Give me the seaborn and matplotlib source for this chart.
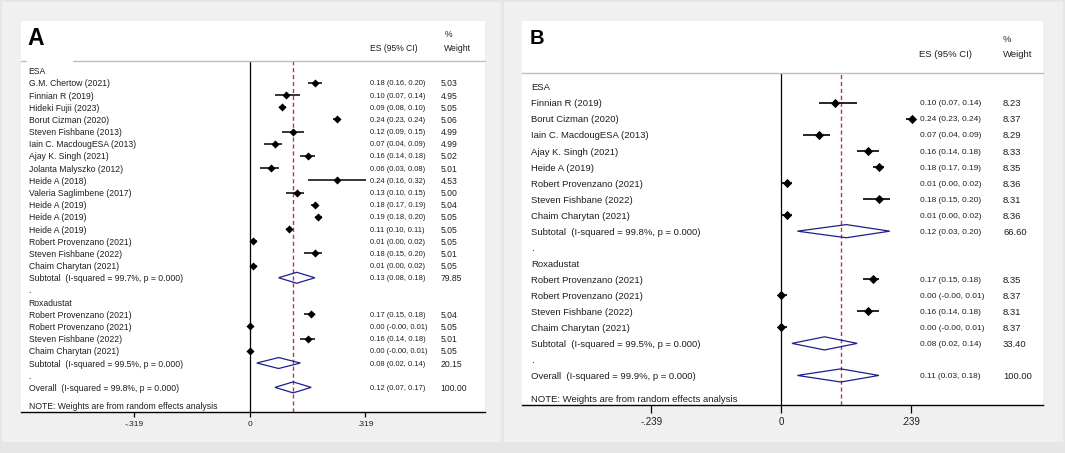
import matplotlib
matplotlib.use("Agg")
import matplotlib.pyplot as plt
import matplotlib.transforms as mtransforms
from matplotlib import font_manager
from matplotlib.patches import Rectangle, Polygon
from matplotlib.lines import Line2D
import pandas as pd
import seaborn as sns

sns.set_style("white")
plt.rcParams['font.family'] = ['Liberation Sans', 'DejaVu Sans']

# ---- panel A data ----
a_esa_names = ["G.M. Chertow (2021)", "Finnian R (2019)", "Hideki Fujii (2023)", "Borut Cizman (2020)",
               "Steven Fishbane (2013)", "Iain C. MacdougESA (2013)", "Ajay K. Singh (2021)",
               "Jolanta Malyszko (2012)", "Heide A (2018)", "Valeria Saglimbene (2017)", "Heide A (2019)",
               "Heide A (2019)", "Heide A (2019)", "Robert Provenzano (2021)", "Steven Fishbane (2022)",
               "Chaim Charytan (2021)"]
a_esa_es = [0.18, 0.10, 0.09, 0.24, 0.12, 0.07, 0.16, 0.06, 0.24, 0.13, 0.18, 0.19, 0.11, 0.01, 0.18, 0.01]
a_esa_lo = [0.16, 0.07, 0.08, 0.23, 0.09, 0.04, 0.14, 0.03, 0.16, 0.10, 0.17, 0.18, 0.10, 0.00, 0.15, 0.00]
a_esa_hi = [0.20, 0.14, 0.10, 0.24, 0.15, 0.09, 0.18, 0.08, 0.32, 0.15, 0.19, 0.20, 0.11, 0.02, 0.20, 0.02]
a_esa_w = [5.03, 4.95, 5.05, 5.06, 4.99, 4.99, 5.02, 5.01, 4.53, 5.00, 5.04, 5.05, 5.05, 5.05, 5.01, 5.05]

a_rox_names = ["Robert Provenzano (2021)", "Robert Provenzano (2021)", "Steven Fishbane (2022)",
               "Chaim Charytan (2021)"]
a_rox_es = [0.17, 0.00, 0.16, 0.00]
a_rox_lo = [0.15, -0.0, 0.14, -0.0]
a_rox_hi = [0.18, 0.01, 0.18, 0.01]
a_rox_w = [5.04, 5.05, 5.01, 5.05]

# pooled: ESA subtotal, Roxadustat subtotal, overall
a_pool_labels = ["Subtotal  (I-squared = 99.7%, p = 0.000)", "Subtotal  (I-squared = 99.5%, p = 0.000)",
                 "Overall  (I-squared = 99.8%, p = 0.000)"]
a_pool_es = [0.13, 0.08, 0.12]
a_pool_lo = [0.08, 0.02, 0.07]
a_pool_hi = [0.18, 0.14, 0.17]
a_pool_w = [79.85, 20.15, 100.00]

# ---- panel B data ----
b_esa_names = ["Finnian R (2019)", "Borut Cizman (2020)", "Iain C. MacdougESA (2013)", "Ajay K. Singh (2021)",
               "Heide A (2019)", "Robert Provenzano (2021)", "Steven Fishbane (2022)", "Chaim Charytan (2021)"]
b_esa_es = [0.10, 0.24, 0.07, 0.16, 0.18, 0.01, 0.18, 0.01]
b_esa_lo = [0.07, 0.23, 0.04, 0.14, 0.17, 0.00, 0.15, 0.00]
b_esa_hi = [0.14, 0.24, 0.09, 0.18, 0.19, 0.02, 0.20, 0.02]
b_esa_w = [8.23, 8.37, 8.29, 8.33, 8.35, 8.36, 8.31, 8.36]

b_rox_names = ["Robert Provenzano (2021)", "Robert Provenzano (2021)", "Steven Fishbane (2022)",
               "Chaim Charytan (2021)"]
b_rox_es = [0.17, 0.00, 0.16, 0.00]
b_rox_lo = [0.15, -0.0, 0.14, -0.0]
b_rox_hi = [0.18, 0.01, 0.18, 0.01]
b_rox_w = [8.35, 8.37, 8.31, 8.37]

b_pool_labels = ["Subtotal  (I-squared = 99.8%, p = 0.000)", "Subtotal  (I-squared = 99.5%, p = 0.000)",
                 "Overall  (I-squared = 99.9%, p = 0.000)"]
b_pool_es = [0.12, 0.08, 0.11]
b_pool_lo = [0.03, 0.02, 0.03]
b_pool_hi = [0.20, 0.14, 0.18]
b_pool_w = [66.60, 33.40, 100.00]

group_names = ["ESA", "Roxadustat"]
note_text = "NOTE: Weights are from random effects analysis"

W, H = 1065, 453
INK = '#1e1e1e'
NAVY = '#1f1f8c'
RED = '#b8384a'

# the ES column is set in a narrow face in the original
installed = {f.name for f in font_manager.fontManager.ttflist}
if 'Liberation Sans Narrow' in installed:
    NUM_FAMILY, NUM_SCALE = ['Liberation Sans Narrow', 'Liberation Sans'], 1.0
else:
    NUM_FAMILY, NUM_SCALE = ['Liberation Sans', 'DejaVu Sans'], 0.87


def build_rows(groups, pools):
    recs = []
    r = 0
    for gname, g, (pl, pe, plo, phi, pw) in zip(group_names, groups, pools[:2]):
        recs.append(dict(row=r, kind='head', label=gname))
        r += 1
        for n, e, lo, hi, w in zip(*g):
            recs.append(dict(row=r, kind='study', label=n, es=e, lo=lo, hi=hi, w=w))
            r += 1
        recs.append(dict(row=r, kind='pool', label=pl, es=pe, lo=plo, hi=phi, w=pw))
        r += 1
        recs.append(dict(row=r, kind='blank', label='.'))
        r += 1
    pl, pe, plo, phi, pw = pools[2]
    recs.append(dict(row=r, kind='pool', label=pl, es=pe, lo=plo, hi=phi, w=pw))
    return pd.DataFrame(recs)


def px_rect(fig, x0, y0, x1, y1, **kw):
    fig.add_artist(Rectangle((x0 / W, 1 - y1 / H), (x1 - x0) / W, (y1 - y0) / H,
                             transform=fig.transFigure, **kw))


def draw_panel(fig, df, g):
    # frame and white header box
    px_rect(fig, *g['frame'], facecolor='#f0f0f0', edgecolor='none', zorder=0)
    px_rect(fig, g['left'], g['top'], g['right'], g['header'], facecolor='white', edgecolor='none', zorder=1)
    yline = 1 - g['header'] / H
    segs = [(g['left'], g['right'])] if g['gap'] is None else \
        [(g['left'], g['gap'][0]), (g['gap'][1], g['right'])]
    for x0, x1 in segs:
        fig.add_artist(Line2D([x0 / W, x1 / W], [yline, yline], transform=fig.transFigure,
                              color='#bdbdbd', lw=1.0, zorder=2))

    ax = fig.add_axes([g['left'] / W, 1 - g['axis'] / H, (g['right'] - g['left']) / W,
                       (g['axis'] - g['header']) / H])
    ax.set_facecolor('white')

    studies = df[df.kind == 'study']
    pools = df[df.kind == 'pool']
    overall = pools.iloc[-1]

    ax.axvline(0, color='black', lw=0.9, zorder=2)
    ax.axvline(overall.es, color=RED, lw=1.0, ls=(0, (3, 2)), zorder=3)
    ax.hlines(studies.row, studies.lo, studies.hi, color='black', lw=g['ci_lw'], zorder=4)
    sns.scatterplot(data=studies, x='es', y='row', marker='D', color='black', s=g['marker_s'],
                    linewidth=0, legend=False, zorder=5, ax=ax)
    h = g['diamond_h']
    for _, p in pools.iterrows():
        ax.add_patch(Polygon([(p.lo, p.row), (p.es, p.row - h), (p.hi, p.row), (p.es, p.row + h)],
                             closed=True, fill=False, edgecolor=NAVY, lw=0.9, zorder=4))

    ax.set_xlim((g['left'] - g['zero']) / g['scale'], (g['right'] - g['zero']) / g['scale'])
    ax.set_ylim((g['axis'] - g['row0']) / g['step'], (g['header'] - g['row0']) / g['step'])
    ax.set(xlabel='', ylabel='')
    ax.set_yticks([])
    t = g['tick']
    ax.set_xticks([-t, 0, t])
    ax.set_xticklabels(["-." + f"{t:.3f}"[2:], "0", "." + f"{t:.3f}"[2:]])
    ax.tick_params(axis='x', direction='out', length=g['ticklen'], width=0.9, color='black',
                   labelsize=g['tickfs'], labelcolor=INK, pad=g['tickpad'], bottom=True)
    for s in ['top', 'left', 'right']:
        ax.spines[s].set_visible(False)
    ax.spines['bottom'].set_color('black')
    ax.spines['bottom'].set_linewidth(1.0)

    span = g['right'] - g['left']
    tr = mtransforms.blended_transform_factory(ax.transAxes, ax.transData)
    fx = lambda px: (px - g['left']) / span
    for _, rr in df.iterrows():
        ax.text(fx(g['label_x']), rr.row, rr.label, transform=tr, va='center_baseline', ha='left',
                fontsize=g['fs'], color=INK)
        if rr.kind in ('study', 'pool'):
            ax.text(fx(g['es_x']), rr.row, f"{rr.es:.2f} ({rr.lo:.2f}, {rr.hi:.2f})", transform=tr,
                    va='center_baseline', ha='left', fontsize=g['fs'] * NUM_SCALE, family=NUM_FAMILY,
                    color=INK)
            ax.text(fx(g['w_x']), rr.row, f"{rr.w:.2f}", transform=tr, va='center_baseline', ha='left',
                    fontsize=g['fs'], color=INK)
    ax.text(fx(g['label_x']), g['note_row'], note_text, transform=tr, va='center_baseline', ha='left',
            fontsize=g['fs'], color=INK)

    # header texts
    fig.text(g['letter_xy'][0] / W, 1 - g['letter_xy'][1] / H, g['letter'], fontsize=g['letter_fs'],
             fontweight='bold', color='black', va='baseline', ha='left', zorder=3)
    fig.text(g['hdr_es_x'] / W, 1 - g['hdr_y'] / H, "ES (95% CI)", fontsize=g['fs'], color=INK,
             va='center_baseline', ha='left', zorder=3)
    fig.text(g['hdr_w_x'] / W, 1 - g['hdr_y'] / H, "Weight", fontsize=g['fs'], color=INK,
             va='center_baseline', ha='left', zorder=3)
    fig.text(g['hdr_w_x'] / W, 1 - g['hdr_pct_y'] / H, "%", fontsize=g['fs'], color=INK,
             va='center_baseline', ha='left', zorder=3)
    return ax


geo_a = dict(frame=(2, 2, 501, 442), left=21, right=485, top=21, header=60.6, axis=411.9,
             zero=249.6, scale=362.5, row0=70.7, step=12.18, label_x=28.6, es_x=369.5, w_x=440.5,
             fs=6.2, tick=0.319, ticklen=3.6, tickpad=3.0, tickfs=6.0, letter='A', letter_xy=(27, 45),
             letter_fs=16.5, hdr_pct_y=33.7, hdr_y=47.1, hdr_es_x=369.5, hdr_w_x=444.4, note_row=27.5,
             diamond_h=0.45, marker_s=17, ci_lw=1.1, gap=(26, 73))
geo_b = dict(frame=(504, 2, 1063, 442), left=522, right=1043, top=21, header=73.4, axis=404.5,
             zero=781.1, scale=543.5, row0=86.9, step=16.03, label_x=531, es_x=919.5, w_x=1003,
             fs=6.8, tick=0.239, ticklen=5.8, tickpad=3.0, tickfs=7.0, letter='B', letter_xy=(530, 44.3),
             letter_fs=14.5, hdr_pct_y=38, hdr_y=53.9, hdr_es_x=918.8, hdr_w_x=1003, note_row=19.45,
             diamond_h=0.41, marker_s=22, ci_lw=1.2, gap=None)

df_a = build_rows([(a_esa_names, a_esa_es, a_esa_lo, a_esa_hi, a_esa_w),
                   (a_rox_names, a_rox_es, a_rox_lo, a_rox_hi, a_rox_w)],
                  list(zip(a_pool_labels, a_pool_es, a_pool_lo, a_pool_hi, a_pool_w)))
df_b = build_rows([(b_esa_names, b_esa_es, b_esa_lo, b_esa_hi, b_esa_w),
                   (b_rox_names, b_rox_es, b_rox_lo, b_rox_hi, b_rox_w)],
                  list(zip(b_pool_labels, b_pool_es, b_pool_lo, b_pool_hi, b_pool_w)))

fig = plt.figure(figsize=(W / 100, H / 100), dpi=100, facecolor='#e6e6e6')
draw_panel(fig, df_a, geo_a)
draw_panel(fig, df_b, geo_b)

fig.savefig("out.png", dpi=100, facecolor=fig.get_facecolor())
